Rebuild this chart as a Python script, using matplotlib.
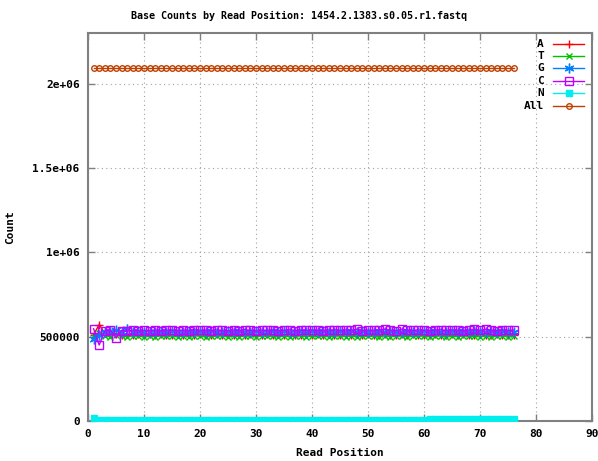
import matplotlib
matplotlib.use("Agg")
import matplotlib.pyplot as plt
from matplotlib.lines import Line2D

title = "Base Counts by Read Position: 1454.2.1383.s0.05.r1.fastq"
positions = list(range(1, 77))

A = [512000, 572000, 520000, 515000, 518000, 512000, 516000, 510000, 514000, 511000,
     513000, 509000, 515000, 512000, 508000, 514000, 511000, 516000, 510000, 513000,
     512000, 507000, 514000, 511000, 515000, 509000, 513000, 510000, 516000, 512000,
     508000, 514000, 511000, 513000, 509000, 515000, 512000, 510000, 514000, 508000,
     513000, 511000, 515000, 509000, 512000, 514000, 507000, 513000, 510000, 515000,
     511000, 508000, 514000, 512000, 509000, 513000, 511000, 515000, 510000, 512000,
     509000, 514000, 511000, 507000, 513000, 510000, 515000, 512000, 508000, 514000,
     511000, 509000, 513000, 510000, 512000, 508000]
T = [498000, 522000, 505000, 500000, 510000, 503000, 499000, 505000, 502000, 500000,
     503000, 499000, 505000, 501000, 504000, 498000, 503000, 500000, 506000, 502000,
     499000, 504000, 501000, 505000, 498000, 503000, 500000, 504000, 502000, 499000,
     505000, 501000, 503000, 498000, 504000, 500000, 502000, 505000, 499000, 503000,
     501000, 504000, 498000, 502000, 505000, 500000, 503000, 499000, 504000, 501000,
     503000, 498000, 505000, 500000, 502000, 504000, 499000, 503000, 501000, 505000,
     498000, 502000, 504000, 500000, 503000, 499000, 505000, 501000, 503000, 498000,
     504000, 500000, 502000, 505000, 499000, 501000]
G = [487000, 508000, 528000, 532000, 537000, 530000, 548000, 526000, 531000, 528000,
     530000, 527000, 532000, 529000, 531000, 526000, 530000, 533000, 528000, 531000,
     529000, 532000, 527000, 530000, 533000, 528000, 531000, 529000, 526000, 532000,
     530000, 528000, 533000, 529000, 531000, 527000, 530000, 532000, 528000, 531000,
     529000, 533000, 527000, 530000, 532000, 528000, 531000, 529000, 533000, 527000,
     530000, 532000, 528000, 531000, 529000, 526000, 532000, 530000, 528000, 533000,
     529000, 531000, 527000, 530000, 532000, 528000, 531000, 529000, 533000, 527000,
     530000, 532000, 528000, 531000, 529000, 530000]
C = [547000, 450000, 535000, 540000, 493000, 536000, 533000, 538000, 534000, 537000,
     536000, 539000, 535000, 538000, 540000, 536000, 539000, 535000, 541000, 537000,
     538000, 536000, 540000, 537000, 535000, 539000, 536000, 541000, 538000, 536000,
     539000, 537000, 540000, 535000, 538000, 541000, 536000, 539000, 537000, 540000,
     538000, 536000, 539000, 541000, 537000, 540000, 538000, 543000, 536000, 539000,
     537000, 540000, 544000, 538000, 536000, 543000, 539000, 537000, 540000, 538000,
     536000, 539000, 541000, 537000, 540000, 538000, 536000, 539000, 544000, 537000,
     543000, 538000, 536000, 540000, 537000, 539000]
N = [15000] + [3000] * 59 + [9000] * 16
ALL = [2090000] * 76

series = [
    ("A", A, "#ff0000", "+", 6, "none"),
    ("T", T, "#00c000", "x", 5, "none"),
    ("G", G, "#0080ff", (6, 2, 0), 7, "none"),
    ("C", C, "#c000ff", "s", 5.5, "none"),
    ("N", N, "#00eeee", "s", 4.5, "#00eeee"),
    ("All", ALL, "#c04000", "o", 4, "none"),
]

xticks = [0, 10, 20, 30, 40, 50, 60, 70, 80, 90]
yticks = [0, 500000, 1000000, 1500000, 2000000]
yticklabels = ["0", "500000", "1e+06", "1.5e+06", "2e+06"]

font = dict(family="DejaVu Sans Mono", weight="bold")

fig = plt.figure(figsize=(5.98, 4.61), dpi=100)
ax = fig.add_axes([88 / 598, 40 / 461, (592 - 88) / 598, (421 - 33) / 461])

for name, vals, col, mk, ms, mfc in series:
    ax.plot(positions, vals, color=col, lw=1, marker=mk, ms=ms, mfc=mfc,
            mec=col, mew=1, zorder=3)

ax.set_xlim(0, 90)
ax.set_ylim(0, 2.3e6)
ax.set_xticks(xticks)
ax.set_xticklabels([str(t) for t in xticks], fontsize=8, **font)
ax.set_yticks(yticks)
ax.set_yticklabels(yticklabels, fontsize=8, **font)
ax.tick_params(direction="in", length=5, color="#808080", width=1,
               top=True, right=True, pad=6)
ax.grid(True, color="#a0a0a0", linestyle=(0, (1, 3)), lw=0.8)
for s in ax.spines.values():
    s.set_color("#808080")
    s.set_linewidth(1.5)

ax.set_xlabel("Read Position", fontsize=8, labelpad=6, **font)
ax.set_ylabel("Count", fontsize=8, **font)
ax.yaxis.set_label_coords((15 - 88) / 504, 0.5)
fig.text(0.5, 1 - 16 / 461, title, ha="center", va="center", fontsize=7.2, **font)

# manual gnuplot-style key
trans = fig.transFigure
W, H = 598.0, 461.0
row_y = [44, 56, 68, 81, 93, 106]
for (name, vals, col, mk, ms, mfc), yy in zip(series, row_y):
    fig.text(544 / W, 1 - yy / H, name, ha="right", va="center", fontsize=8, **font)
    fig.add_artist(Line2D([553 / W, 584 / W], [1 - yy / H, 1 - yy / H], transform=trans,
                          color=col, lw=1))
    fig.add_artist(Line2D([568.5 / W], [1 - yy / H], transform=trans, color=col,
                          marker=mk, ms=ms, mfc=mfc, mec=col, mew=1, lw=0))

fig.savefig("out.png", dpi=100)
